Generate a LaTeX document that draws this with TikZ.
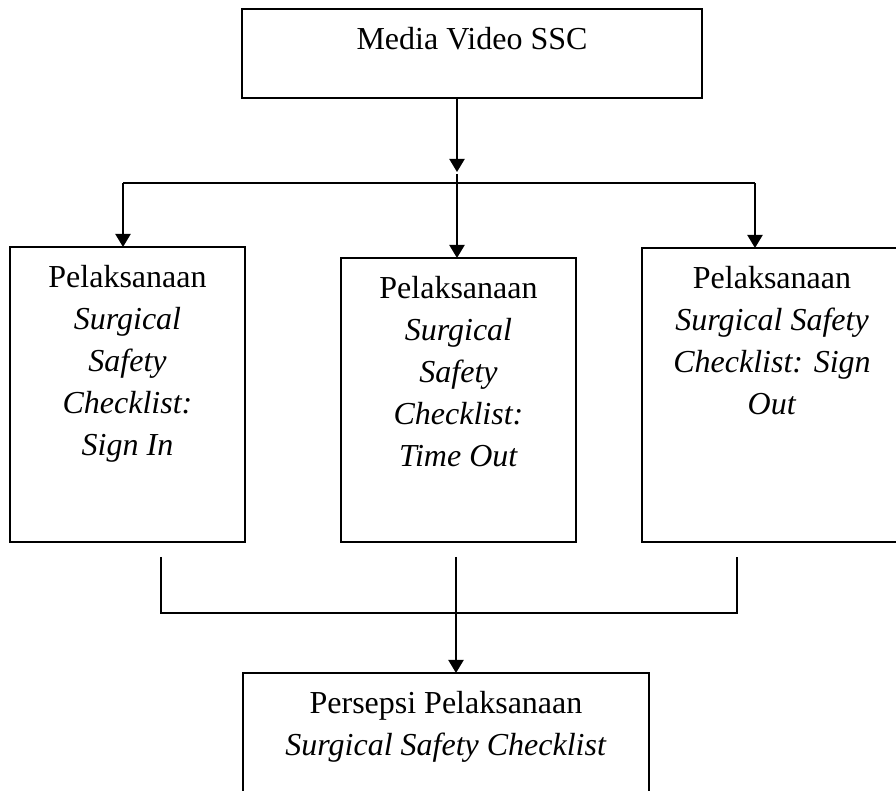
\documentclass[tikz,border=0pt]{standalone}
\usepackage{fontspec}
\setmainfont{Liberation Serif}
\usetikzlibrary{arrows.meta}
\begin{document}
\begin{tikzpicture}[x=0.5pt,y=-0.5pt,
  box/.style={draw, line width=1pt, inner sep=0pt, outer sep=0pt},
  txt/.style={anchor=north, inner sep=0pt, align=center, font=\fontsize{16}{21}\selectfont, yshift=-5.55pt},
  conn/.style={line width=1pt},
  arr/.style={conn, -{Triangle[length=6.5pt,width=7.5pt]}}]
\fill[white] (0,0) rectangle (896,791);
\useasboundingbox (0,0) rectangle (896,791);
\clip (0,0) rectangle (896,791);

% boxes
\node[box, minimum width=230pt, minimum height=44.5pt] (top) at (472,53.5) {};
\node[box, minimum width=117.5pt, minimum height=147.5pt] (left) at (127.5,394.5) {};
\node[box, minimum width=117.5pt, minimum height=142pt] (mid) at (458.5,400) {};
\node[box, minimum width=130pt, minimum height=147pt] (right) at (772,395) {};
\node[box, minimum width=203pt, minimum height=67pt] (bot) at (446,740) {};

% texts
\node[txt] (toptxt) at (top.north) {\strut Media Video SSC};
\node[txt] (lefttxt) at (left.north) {\strut Pelaksanaan\\ \textit{Surgical}\\ \textit{Safety}\\ \textit{Checklist:}\\ \textit{Sign In}};
\node[txt] (midtxt) at (mid.north) {\strut Pelaksanaan\\ \textit{Surgical}\\ \textit{Safety}\\ \textit{Checklist:}\\ \textit{Time Out}};
\node[txt] (righttxt) at (right.north) {\strut Pelaksanaan\\ \textit{Surgical Safety}\\ \textit{Checklist: Sign}\\ \textit{Out}};
\node[txt] (bottxt) at (bot.north) {\strut Persepsi Pelaksanaan\\ \textit{Surgical Safety Checklist}};

% upper connectors
\coordinate (split) at (457,183);
\coordinate (atip) at (457,172);
\coordinate (mtop) at (457,174);
\coordinate (hl) at (123,183);
\coordinate (hr) at (755,183);
\draw[arr] (top.south -| split) -- (atip);
\draw[conn] (hl) -- (hr);
\draw[arr] (hl) -- (hl |- left.north);
\draw[arr] (hr) -- (hr |- right.north);
\draw[arr] (mtop) -- (mtop |- mid.north);

% lower connectors
\coordinate (bl) at (161,557);
\coordinate (br) at (737,557);
\coordinate (bm) at (456,557);
\coordinate (bus) at (456,613);
\draw[conn] (bl) |- (bus) -| (br);
\draw[arr] (bm) -- (bm |- bot.north);
\end{tikzpicture}
\end{document}
